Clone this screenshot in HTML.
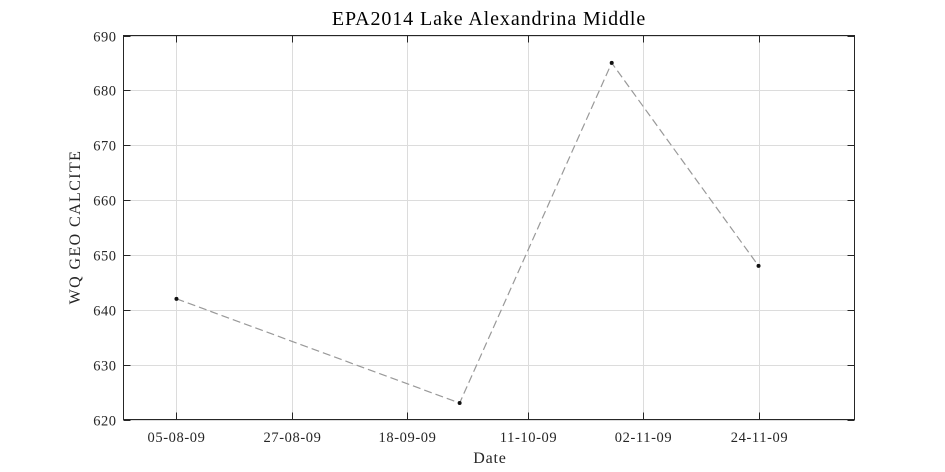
<!DOCTYPE html>
<html><head><meta charset="utf-8"><style>
html,body{margin:0;padding:0;background:#fff;}
svg{display:block;font-family:"Liberation Serif",serif;}
</style></head><body>
<svg id="chart" width="945" height="472">
<rect x="0" y="0" width="945" height="472" fill="#fff"/>
<g id="grid"></g>
<g id="series"></g>
<rect x="123.5" y="35.5" width="731" height="384" fill="none" stroke="#262626" stroke-width="1"/>
<g id="axes"></g>
<text x="489" y="25" text-anchor="middle" font-size="20" letter-spacing="0.9" fill="#000">EPA2014 Lake Alexandrina Middle</text>
<text x="490" y="463" text-anchor="middle" font-size="16" letter-spacing="0.8" fill="#262626">Date</text>
<text transform="translate(80,227) rotate(-90)" text-anchor="middle" font-size="16" letter-spacing="1.4" fill="#262626">WQ GEO CALCITE</text>
</svg>
<script>
const dates = ["2009-08-05","2009-09-28","2009-10-27","2009-11-24"];
const values = [642, 623, 685, 648];
const xTickLabels = ["05-08-09","27-08-09","18-09-09","11-10-09","02-11-09","24-11-09"];
const xTickDates = ["2009-08-05","2009-08-27","2009-09-18","2009-10-11","2009-11-02","2009-11-24"];
const yTicks = [620,630,640,650,660,670,680,690];

const NS="http://www.w3.org/2000/svg";
const day = s => Date.parse(s+"T00:00:00Z")/86400000;
const d0 = day("2009-08-05");
const L=123.5,R=854.5,T=35.5,B=419.5;
const xDayMin=-10.1, xDayMax=129.3;
const x = s => L + (day(s)-d0 - xDayMin)/(xDayMax-xDayMin)*(R-L);
const y = v => B - (v-620)/(690-620)*(B-T);
function mk(tag,attrs,parent){const e=document.createElementNS(NS,tag);for(const k in attrs)e.setAttribute(k,attrs[k]);parent.appendChild(e);return e;}
const grid=document.getElementById('grid'),axes=document.getElementById('axes'),ser=document.getElementById('series');
yTicks.forEach(v=>{
  const yy=Math.round(y(v))+0.5;
  const g=mk('line',{x1:L,x2:R,y1:yy,y2:yy,stroke:'#dcdcdc','stroke-width':1},grid);
  
  
  mk('line',{x1:L,x2:L+7,y1:yy,y2:yy,stroke:'#262626'},axes);
  mk('line',{x1:R,x2:R-7,y1:yy,y2:yy,stroke:'#262626'},axes);
  const t=mk('text',{x:L-7,y:yy+5,'text-anchor':'end','font-size':14.5,'letter-spacing':0.5,fill:'#262626'},axes);
  t.textContent=v;
  
  
});
xTickDates.forEach((d,i)=>{
  const xx=Math.round(x(d))+0.5;
  const g=mk('line',{x1:xx,x2:xx,y1:T,y2:B,stroke:'#dcdcdc','stroke-width':1},grid);
  
  
  mk('line',{x1:xx,x2:xx,y1:B,y2:B-7,stroke:'#262626'},axes);
  mk('line',{x1:xx,x2:xx,y1:T,y2:T+7,stroke:'#262626'},axes);
  const t=mk('text',{x:xx,y:442,'text-anchor':'middle','font-size':14.5,'letter-spacing':0.6,fill:'#262626'},axes);
  t.textContent=xTickLabels[i];
  
  
});
const pts=dates.map((d,i)=>x(d)+','+y(values[i])).join(' ');
const pl=mk('polyline',{points:pts,fill:'none',stroke:'#999','stroke-width':1.2,'stroke-dasharray':'8,4'},ser);


dates.forEach((d,i)=>{
  const c=mk('circle',{cx:x(d),cy:y(values[i]),r:2,fill:'#111'},ser);
  
  
});
</script>
</body></html>
